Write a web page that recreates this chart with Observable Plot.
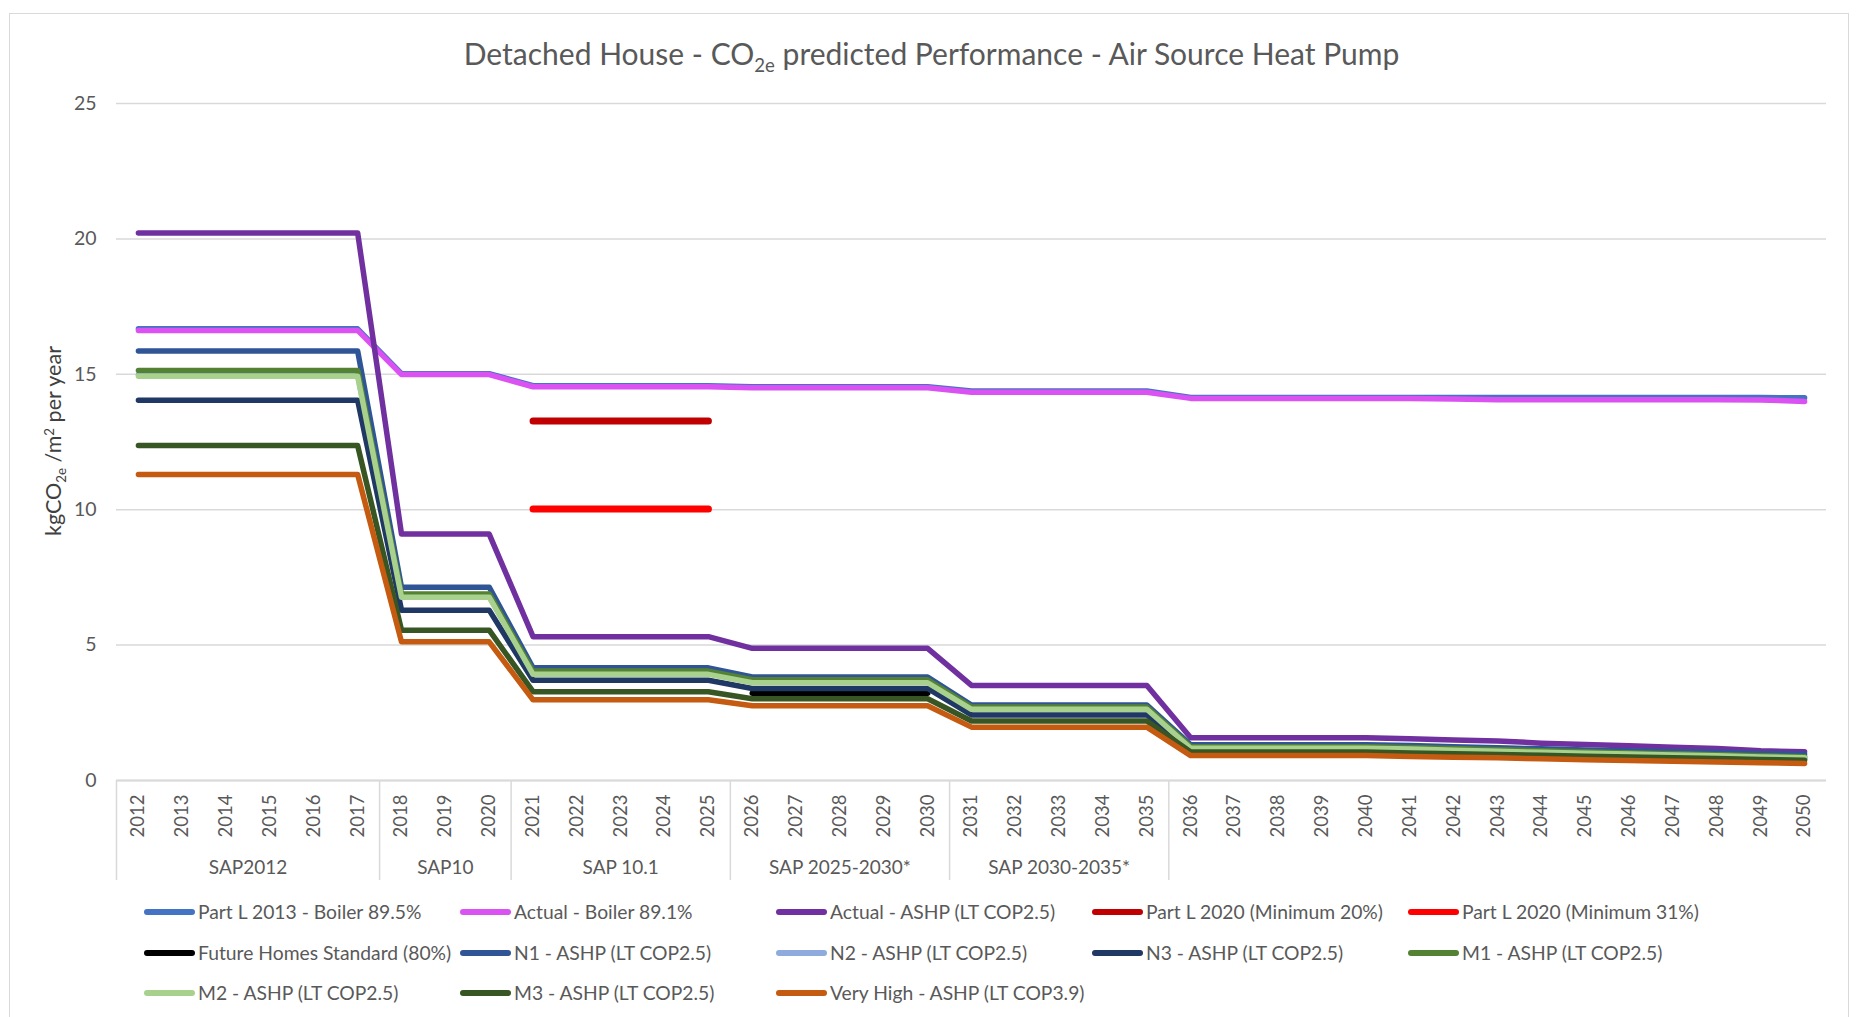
<!DOCTYPE html>
<html>
<head>
<meta charset="utf-8">
<script src="https://cdn.jsdelivr.net/npm/d3@7"></script>
<script src="https://cdn.jsdelivr.net/npm/@observablehq/plot@0.6"></script>
<style>
  html, body { margin: 0; padding: 0; background: #fff; }
  body { width: 1863px; height: 1017px; position: relative; overflow: hidden; font-family: Lato, "Open Sans", sans-serif; color: #595959; }
  #frame { position: absolute; left: 9px; top: 13px; width: 1840px; height: 1030px; border: 1px solid #D9D9D9; box-sizing: border-box; }
  #title { position: absolute; left: 0; width: 1863px; top: 35px; text-align: center; font-size: 30px; color: #595959; white-space: nowrap; }
  #title sub, #ylab sub { font-size: 0.62em; vertical-align: -0.35em; line-height: 0; }
  #ylab sup { font-size: 0.62em; vertical-align: 0.55em; line-height: 0; }
  #ylab { position: absolute; left: 53px; top: 441px; transform: translate(-50%, -50%) rotate(-90deg); font-size: 21.5px; color: #404040; white-space: nowrap; }
  #chart { position: absolute; left: 0; top: 80px; }
  .leg { position: absolute; font-size: 19.3px; color: #595959; white-space: nowrap; line-height: 1; }
  .sw { position: absolute; height: 6px; border-radius: 3px; }
</style>
</head>
<body>
<div id="frame"></div>
<div id="title">Detached House - CO<sub>2e</sub> predicted Performance - Air Source Heat Pump</div>
<div id="ylab">kgCO<sub>2e</sub> /m<sup>2</sup> per year</div>
<div id="chart"></div>
<div id="legend"></div>
<script>
// ---- data ----
const years = [2012,2013,2014,2015,2016,2017,2018,2019,2020,2021,2022,2023,2024,2025,2026,2027,2028,2029,2030,2031,2032,2033,2034,2035,2036,2037,2038,2039,2040,2041,2042,2043,2044,2045,2046,2047,2048,2049,2050];
const yTicks = [0, 5, 10, 15, 20, 25];
const groupNames = ["SAP2012", "SAP10", "SAP 10.1", "SAP 2025-2030*", "SAP 2030-2035*"];
const groupMid = [2014.5, 2019, 2023, 2028, 2033];
const groupBounds = [2011.5, 2017.5, 2020.5, 2025.5, 2030.5, 2035.5];

const seriesNames = [
  "Part L 2013 - Boiler 89.5%",
  "Actual - Boiler 89.1%",
  "Actual - ASHP (LT COP2.5)",
  "Part L 2020 (Minimum 20%)",
  "Part L 2020 (Minimum 31%)",
  "Future Homes Standard (80%)",
  "N1 - ASHP (LT COP2.5)",
  "N2 - ASHP (LT COP2.5)",
  "N3 - ASHP (LT COP2.5)",
  "M1 - ASHP (LT COP2.5)",
  "M2 - ASHP (LT COP2.5)",
  "M3 - ASHP (LT COP2.5)",
  "Very High - ASHP (LT COP3.9)"
];
const seriesColors = ["#4472C4","#DA52F2","#7030A0","#C00000","#FF0000","#000000","#2F5597","#8FAADC","#1F3864","#548235","#A9D18E","#375623","#C55A11"];

const partL2013 = [16.68,16.68,16.68,16.68,16.68,16.68, 15.02,15.02,15.02, 14.58,14.58,14.58,14.58,14.58, 14.54,14.54,14.54,14.54,14.54, 14.38,14.38,14.38,14.38,14.38, 14.14,14.14,14.14,14.14,14.14,14.14,14.14,14.14,14.14,14.14,14.14,14.14,14.14,14.14,14.13];
const actualBoiler = [16.62,16.62,16.62,16.62,16.62,16.62, 14.99,14.99,14.99, 14.54,14.54,14.54,14.54,14.54, 14.50,14.50,14.50,14.50,14.50, 14.34,14.34,14.34,14.34,14.34, 14.11,14.11,14.11,14.11,14.11,14.11,14.09,14.06,14.06,14.06,14.06,14.06,14.06,14.05,14.00];
const actualASHP = [20.22,20.22,20.22,20.22,20.22,20.22, 9.10,9.10,9.10, 5.31,5.31,5.31,5.31,5.31, 4.88,4.88,4.88,4.88,4.88, 3.51,3.51,3.51,3.51,3.51, 1.58,1.58,1.58,1.58,1.58,1.54,1.50,1.46,1.38,1.33,1.28,1.23,1.18,1.10,1.06];
const partL2020min20 = [null,null,null,null,null,null, null,null,null, 13.28,13.28,13.28,13.28,13.28, null,null,null,null,null, null,null,null,null,null, null,null,null,null,null,null,null,null,null,null,null,null,null,null,null];
const partL2020min31 = [null,null,null,null,null,null, null,null,null, 10.03,10.03,10.03,10.03,10.03, null,null,null,null,null, null,null,null,null,null, null,null,null,null,null,null,null,null,null,null,null,null,null,null,null];
const fhs = [null,null,null,null,null,null, null,null,null, null,null,null,null,null, 3.22,3.22,3.22,3.22,3.22, null,null,null,null,null, null,null,null,null,null,null,null,null,null,null,null,null,null,null,null];
const n1 = [15.86,15.86,15.86,15.86,15.86,15.86, 7.14,7.14,7.14, 4.16,4.16,4.16,4.16,4.16, 3.82,3.82,3.82,3.82,3.82, 2.79,2.79,2.79,2.79,2.79, 1.32,1.32,1.32,1.32,1.32,1.29,1.25,1.21,1.17,1.13,1.10,1.07,1.04,1.00,0.97];
const n2 = [14.98,14.98,14.98,14.98,14.98,14.98, 6.80,6.80,6.80, 3.95,3.95,3.95,3.95,3.95, 3.64,3.64,3.64,3.64,3.64, 2.65,2.65,2.65,2.65,2.65, 1.22,1.22,1.22,1.22,1.22,1.19,1.15,1.11,1.07,1.03,1.00,0.97,0.93,0.89,0.86];
const n3 = [14.04,14.04,14.04,14.04,14.04,14.04, 6.29,6.29,6.29, 3.70,3.70,3.70,3.70,3.70, 3.40,3.40,3.40,3.40,3.40, 2.42,2.42,2.42,2.42,2.42, 1.12,1.12,1.12,1.12,1.12,1.09,1.06,1.02,0.99,0.95,0.92,0.89,0.86,0.83,0.80];
const m1 = [15.14,15.14,15.14,15.14,15.14,15.14, 6.89,6.89,6.89, 4.04,4.04,4.04,4.04,4.04, 3.72,3.72,3.72,3.72,3.72, 2.71,2.71,2.71,2.71,2.71, 1.25,1.25,1.25,1.25,1.25,1.22,1.18,1.14,1.10,1.06,1.02,0.99,0.95,0.91,0.88];
const m2 = [14.93,14.93,14.93,14.93,14.93,14.93, 6.77,6.77,6.77, 3.92,3.92,3.92,3.92,3.92, 3.61,3.61,3.61,3.61,3.61, 2.63,2.63,2.63,2.63,2.63, 1.19,1.19,1.19,1.19,1.19,1.16,1.12,1.08,1.04,1.01,0.98,0.94,0.91,0.87,0.84];
const m3 = [12.37,12.37,12.37,12.37,12.37,12.37, 5.55,5.55,5.55, 3.28,3.28,3.28,3.28,3.28, 3.02,3.02,3.02,3.02,3.02, 2.20,2.20,2.20,2.20,2.20, 1.05,1.05,1.05,1.05,1.05,1.02,0.99,0.96,0.93,0.90,0.87,0.84,0.81,0.78,0.75];
const veryHigh = [11.30,11.30,11.30,11.30,11.30,11.30, 5.12,5.12,5.12, 2.98,2.98,2.98,2.98,2.98, 2.76,2.76,2.76,2.76,2.76, 1.97,1.97,1.97,1.97,1.97, 0.92,0.92,0.92,0.92,0.92,0.89,0.86,0.84,0.80,0.77,0.74,0.71,0.68,0.66,0.63];

const seriesValues = [partL2013, actualBoiler, actualASHP, partL2020min20, partL2020min31, fhs, n1, n2, n3, m1, m2, m3, veryHigh];

// ---- build long table ----
const rows = [];
seriesNames.forEach((name, i) => {
  seriesValues[i].forEach((v, j) => {
    if (v != null) rows.push({series: name, year: years[j], value: v});
  });
});
const thick = new Set(["Part L 2020 (Minimum 20%)", "Part L 2020 (Minimum 31%)"]);
const rowsThin = rows.filter(d => !thick.has(d.series));
const rowsThick = rows.filter(d => thick.has(d.series));
const groups = groupNames.map((name, i) => ({name, mid: groupMid[i]}));

const chart = Plot.plot({
  width: 1863,
  height: 810,
  marginLeft: 116,
  marginRight: 37,
  marginTop: 23,
  marginBottom: 110,
  x: {type: "linear", domain: [2011.5, 2050.5]},
  y: {domain: [0, 25]},
  color: {domain: seriesNames, range: seriesColors},
  style: {fontFamily: "Lato, 'Open Sans', sans-serif", color: "#595959", background: "transparent", overflow: "visible"},
  marks: [
    Plot.gridY(yTicks, {stroke: "#D9D9D9", strokeOpacity: 1, strokeWidth: 1.5}),
    Plot.axisY(yTicks, {tickSize: 0, tickPadding: 20, fontSize: 19.5, label: null, fill: "#595959"}),
    Plot.ruleY([0], {stroke: "#D9D9D9", strokeWidth: 2.2}),
    Plot.axisX(years, {tickSize: 0, tickRotate: -90, tickPadding: 14, tickFormat: d => String(d), label: null, fontSize: 18.5, fill: "#595959"}),
    Plot.axisX(groupBounds, {tickSize: 100, tickFormat: () => "", stroke: "#D9D9D9", strokeWidth: 1.5, strokeOpacity: 1, label: null}),
    Plot.text(groups, {x: "mid", text: "name", frameAnchor: "bottom", dy: 93, fontSize: 19, fill: "#595959"}),
    Plot.line(rowsThin, {x: "year", y: "value", z: "series", stroke: "series", strokeWidth: 5.5, strokeLinecap: "round", strokeLinejoin: "round"}),
    Plot.line(rowsThick, {x: "year", y: "value", z: "series", stroke: "series", strokeWidth: 7, strokeLinecap: "round", strokeLinejoin: "round"})
  ]
});
document.getElementById("chart").appendChild(chart);

// ---- legend ----
const legCols = [198, 514, 830, 1146, 1462];
const legRows = [912, 953, 993];
const legend = document.getElementById("legend");
seriesNames.forEach((name, i) => {
  const c = i % 5, r = Math.floor(i / 5);
  const sw = document.createElement("div");
  sw.className = "sw";
  sw.style.left = (legCols[c] - 54) + "px";
  sw.style.width = "51px";
  sw.style.top = (legRows[r] - 3) + "px";
  sw.style.background = seriesColors[i];
  legend.appendChild(sw);
  const t = document.createElement("div");
  t.className = "leg";
  t.textContent = name;
  t.style.left = legCols[c] + "px";
  t.style.top = (legRows[r] - 10) + "px";
  legend.appendChild(t);
});
</script>
</body>
</html>
